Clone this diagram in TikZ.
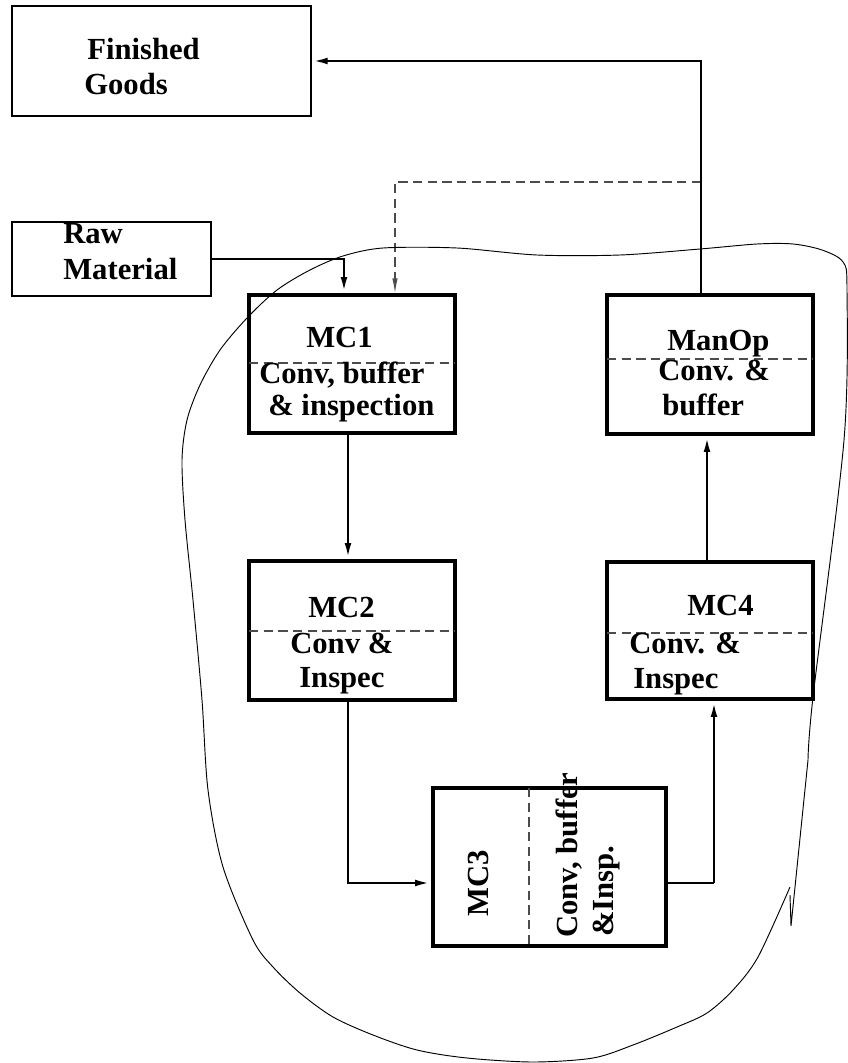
\documentclass[tikz,border=0pt]{standalone}
\usepackage{fontspec}
\setmainfont{Liberation Serif}
\usetikzlibrary{arrows.meta,fit}
\begin{document}
\begin{tikzpicture}[x=0.75pt,y=-0.75pt,
  lbl/.style={inner sep=0pt,anchor=base west,font=\fontsize{23}{24}\selectfont\bfseries},
  thinbox/.style={draw,line width=1pt,inner sep=0pt},
  mcbox/.style={draw,line width=2.8pt,inner sep=0pt},
  flow/.style={line width=2pt,-{Latex[length=12pt,width=5pt]}},
  divider/.style={draw=black!70,line width=0.8pt,dash pattern=on 7pt off 4pt},
  blob/.style={line width=0.7pt}]
\useasboundingbox (0,0) rectangle (848,1063);

% boxes
\node[thinbox,fit={(12,6)(311,116)}] (fg) {};
\node[thinbox,fit={(12,222)(211,296)}] (raw) {};
\node[mcbox,fit={(249,295)(455,433)}] (mc1) {};
\node[mcbox,fit={(607,295)(813,434)}] (manop) {};
\node[mcbox,fit={(249,561)(455,700)}] (mc2) {};
\node[mcbox,fit={(607,562)(813,699)}] (mc4) {};
\node[mcbox,fit={(433,788)(666,946)}] (mc3) {};

% dividers inside the boxes
\draw[divider] (249,363) -- (455,363);
\draw[divider] (607,359) -- (813,359);
\draw[divider] (249,631) -- (455,631);
\draw[divider] (607,633) -- (813,633);
\draw[divider] (529,788) -- (529,946);

% texts
\node[lbl] (tfin) at (87,60) {Finished};
\node[lbl] (tgoods) at (84,94) {Goods};
\node[lbl] (traw) at (63,243) {Raw};
\node[lbl] (tmat) at (63,279) {Material};
\node[lbl] (tmc1) at (306,347) {MC1};
\node[lbl] (tmc1a) at (259,383) {Conv, buffer};
\node[lbl] (tmc1b) at (268,415) {\& inspection};
\node[lbl] (tman) at (667,350) {ManOp};
\node[lbl] (tmana) at (658,380) {Conv. \&};
\node[lbl] (tmanb) at (662,415) {buffer};
\node[lbl] (tmc2) at (308,617) {MC2};
\node[lbl] (tmc2a) at (290,653) {Conv \&};
\node[lbl] (tmc2b) at (299,687) {Inspec};
\node[lbl] (tmc4) at (687,615) {MC4};
\node[lbl] (tmc4a) at (629,653) {Conv. \&};
\node[lbl] (tmc4b) at (633,688) {Inspec};
\node[lbl,rotate=90] (tmc3) at (488,917) {MC3};
\node[lbl,rotate=90] (tmc3a) at (577,938) {Conv, buffer};
\node[lbl,rotate=90] (tmc3b) at (613,937) {\&Insp.};

% connectors
\coordinate (fb) at (701,182);
\coordinate (j3) at (714,883);
\draw[flow] (raw.east) -| ([xshift=-6pt]mc1.north);
\draw[divider,-{Latex[length=11pt,width=4pt]}] (fb) -| ([xshift=32.25pt]mc1.north);
\draw[flow] ([xshift=-3pt]mc1.south) -- ([xshift=-3pt]mc2.north);
\draw[flow] ([xshift=-3pt]mc2.south) |- ([yshift=-12pt]mc3.west);
\draw[line width=1pt] ([yshift=-12pt]mc3.east) -- (j3);
\draw[flow] (j3) -- (j3 |- mc4.south);
\draw[flow] ([xshift=-2.25pt]mc4.north) -- ([xshift=-2.25pt]manop.south);
\draw[flow] ([xshift=-6.75pt]manop.north) |- (fg.east);

% boundary
\draw[blob] plot[smooth,tension=0.5] coordinates {
 (790,887) (758,957) (733,990) (707,1013) (677,1027) (633,1045) (593,1058)
 (533,1062) (467,1058) (417,1050) (373,1035) (333,1017) (300,993) (273,967)
 (253,940) (223,867) (208,790) (202,700) (193,600) (185,520) (182,460)
 (187,420) (200,385) (220,350) (247,318) (277,290) (310,270) (343,256)
 (383,248) (457,248) (537,255) (620,255) (700,249) (757,244) (793,244)
 (822,250) (843,262) (847,290) (844,440) (813,697) (808,760)}
 -- (791,926) -- (790,895);
\end{tikzpicture}
\end{document}
